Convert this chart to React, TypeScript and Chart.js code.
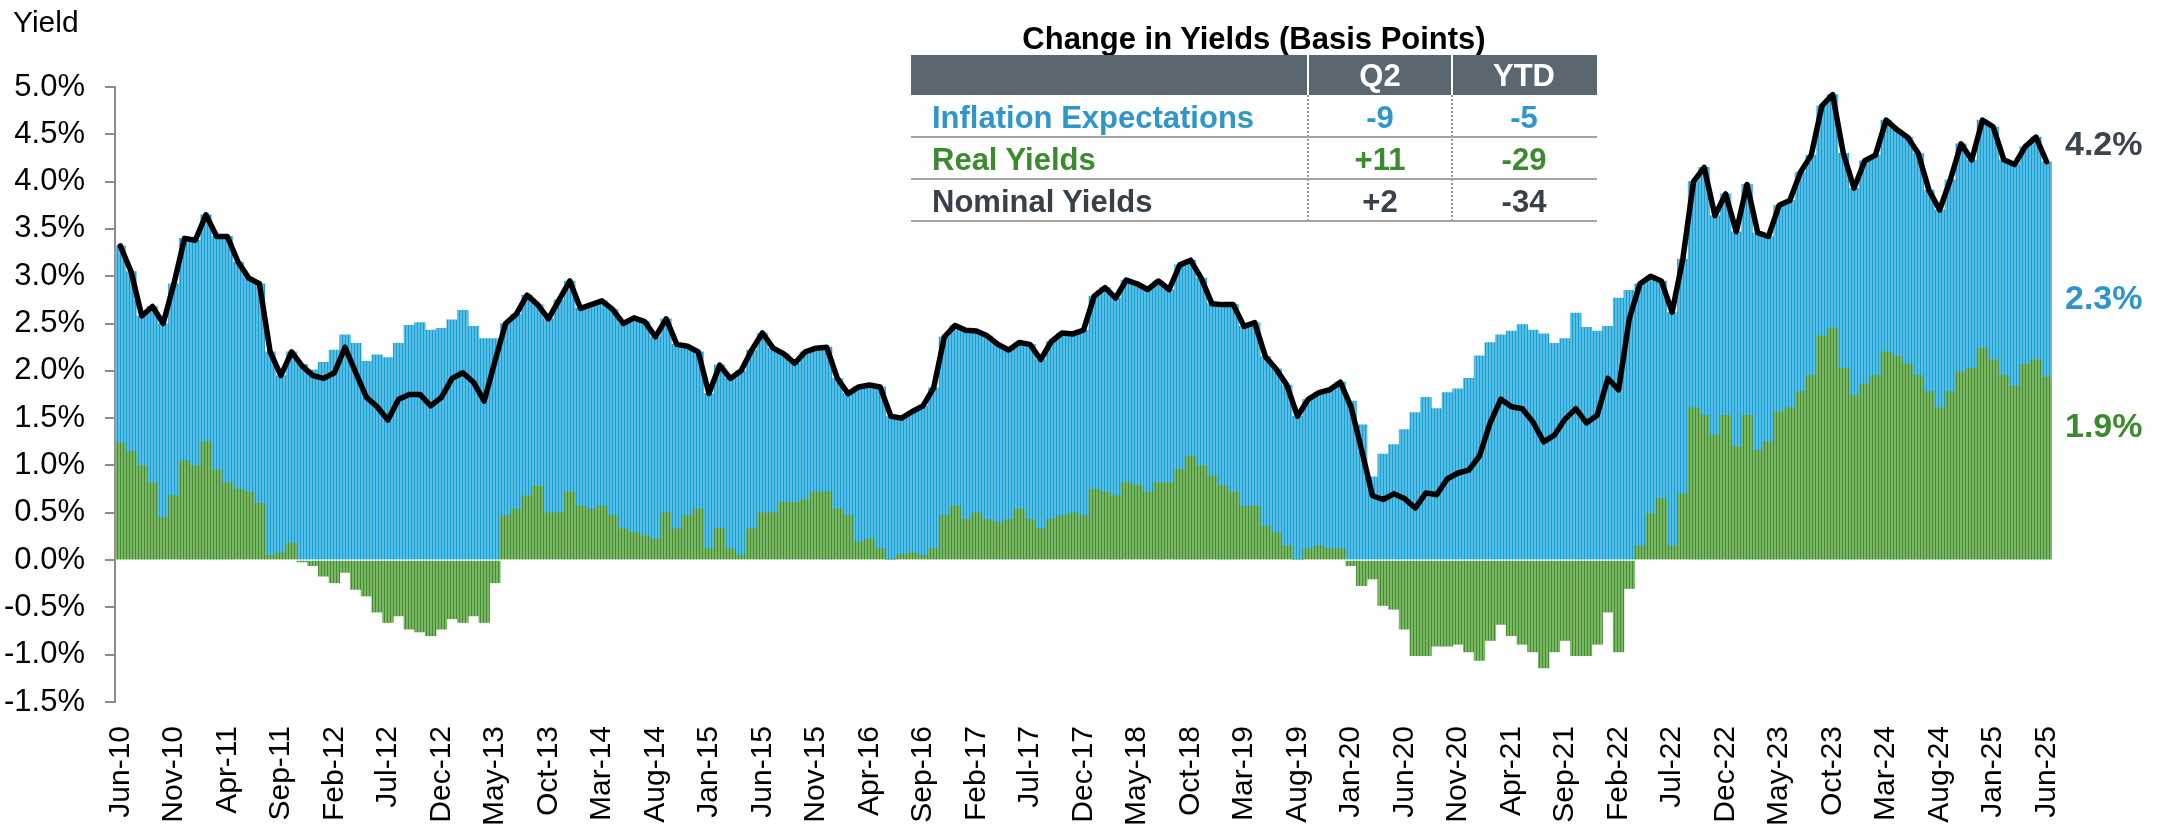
import React, { useEffect, useRef } from 'react';
import { Chart, registerables } from 'chart.js';

Chart.register(...registerables);

// ---------- data ----------
const START_YEAR = 2010;
const START_MONTH = 5; // June (0-based)
const MONTH_NAMES = ['Jan', 'Feb', 'Mar', 'Apr', 'May', 'Jun', 'Jul', 'Aug', 'Sep', 'Oct', 'Nov', 'Dec'];

// 10-year nominal Treasury yield (%), monthly, Jun-10 .. Jun-25
const NOMINAL_YIELD = [
  3.32, 3.05, 2.58, 2.68, 2.50, 2.92, 3.40, 3.38, 3.65, 3.42,
  3.42, 3.15, 2.98, 2.92, 2.20, 1.95, 2.20, 2.05, 1.95, 1.92,
  1.98, 2.25, 1.98, 1.72, 1.62, 1.48, 1.70, 1.75, 1.75, 1.63,
  1.72, 1.92, 1.98, 1.88, 1.68, 2.10, 2.50, 2.60, 2.80, 2.70,
  2.55, 2.75, 2.95,
  2.66, 2.70, 2.74, 2.65, 2.50, 2.56, 2.52, 2.36, 2.55, 2.28,
  2.26, 2.20, 1.76, 2.06, 1.92, 2.00, 2.22, 2.40, 2.24, 2.18,
  2.08, 2.20, 2.24, 2.25, 1.92, 1.76, 1.83, 1.85, 1.83, 1.52,
  1.50, 1.57, 1.63, 1.82, 2.36, 2.48, 2.43, 2.42, 2.37, 2.28,
  2.22,
  2.30, 2.28, 2.12, 2.31, 2.40, 2.39, 2.43, 2.79, 2.88, 2.77,
  2.96, 2.92, 2.86, 2.95, 2.86, 3.12, 3.17, 2.98, 2.71, 2.70,
  2.70, 2.47, 2.51, 2.15, 2.02, 1.85, 1.52, 1.70, 1.77, 1.80,
  1.88, 1.62, 1.16, 0.68, 0.64, 0.70, 0.65, 0.55, 0.71,
  0.69, 0.86, 0.92, 0.95, 1.10, 1.45, 1.70, 1.62, 1.60, 1.46,
  1.25, 1.32, 1.49, 1.60, 1.45, 1.53, 1.92, 1.80, 2.55, 2.92,
  3.00, 2.95, 2.62, 3.18, 4.00, 4.15, 3.64, 3.87, 3.47, 3.97,
  3.46, 3.42, 3.75, 3.80, 4.10, 4.28, 4.80, 4.92, 4.30, 3.93,
  4.22, 4.28, 4.65, 4.55, 4.47, 4.30, 3.91, 3.70, 4.02, 4.40,
  4.23, 4.65, 4.58, 4.23, 4.18, 4.37, 4.47, 4.21,
];

// 10-year real (TIPS) yield (%), monthly, Jun-10 .. Jun-25
const REAL_YIELD = [
  1.24, 1.15, 1.00, 0.82, 0.45, 0.68, 1.05, 1.00, 1.25, 0.95,
  0.82, 0.75, 0.72, 0.60, 0.05, 0.08, 0.18, -0.02, -0.06, -0.17,
  -0.24, -0.13, -0.31, -0.38, -0.55, -0.66, -0.59, -0.73, -0.76, -0.80,
  -0.73, -0.62, -0.66, -0.59, -0.66, -0.24, 0.47, 0.54, 0.68, 0.78,
  0.50, 0.50, 0.72,
  0.57, 0.54, 0.57, 0.47, 0.33, 0.29, 0.26, 0.22, 0.50, 0.33,
  0.47, 0.54, 0.12, 0.33, 0.12, 0.05, 0.33, 0.50, 0.50, 0.61,
  0.61, 0.64, 0.72, 0.72, 0.54, 0.47, 0.19, 0.22, 0.12, 0.01,
  0.06, 0.08, 0.05, 0.12, 0.47, 0.57, 0.43, 0.50, 0.43, 0.40,
  0.43,
  0.54, 0.43, 0.33, 0.43, 0.47, 0.50, 0.47, 0.75, 0.72, 0.68,
  0.82, 0.79, 0.72, 0.82, 0.82, 0.96, 1.10, 1.00, 0.89, 0.79,
  0.72, 0.57, 0.57, 0.36, 0.29, 0.15, 0.01, 0.12, 0.15, 0.12,
  0.12, -0.06, -0.27, -0.20, -0.48, -0.52, -0.73, -1.01, -1.01,
  -0.91, -0.91, -0.89, -0.97, -1.06, -0.85, -0.68, -0.80, -0.89, -0.97,
  -1.14, -0.97, -0.85, -1.01, -1.01, -0.89, -0.55, -0.97, -0.30, 0.15,
  0.49, 0.65, 0.15, 0.70, 1.61, 1.53, 1.32, 1.53, 1.20, 1.53,
  1.16, 1.25, 1.57, 1.61, 1.78, 1.95, 2.37, 2.45, 2.03, 1.74,
  1.86, 1.95, 2.20, 2.16, 2.07, 1.95, 1.78, 1.61, 1.78, 1.99,
  2.03, 2.24, 2.12, 1.95, 1.84, 2.07, 2.12, 1.94,
];

const TICK_EVERY = 5;
const Y_MIN = -1.5;
const Y_MAX = 5.0;
const Y_STEP = 0.5;

const TABLE_TITLE = 'Change in Yields (Basis Points)';
const TABLE_HEADERS = ['Q2', 'YTD'];
const TABLE_LABELS = ['Inflation Expectations', 'Real Yields', 'Nominal Yields'];
const TABLE_Q2 = ['-9', '+11', '+2'];
const TABLE_YTD = ['-5', '-29', '-34'];
const END_LABELS = ['4.2%', '2.3%', '1.9%'];

// ---------- derived ----------
const CATEGORIES: string[] = NOMINAL_YIELD.map((_, i) => {
  const t = START_MONTH + i;
  const y = START_YEAR + Math.floor(t / 12);
  return `${MONTH_NAMES[t % 12]}-${String(y % 100).padStart(2, '0')}`;
});
const INFLATION_EXPECTATIONS = NOMINAL_YIELD.map((n, i) => +(n - REAL_YIELD[i]).toFixed(2));

// ---------- styles ----------
const FONT = '"Liberation Sans", Arial, Helvetica, sans-serif';
const BLUE_TEXT = '#2E96CB';
const GREEN_TEXT = '#3B8B2E';
const SLATE_TEXT = '#36414B';
const ROW_COLORS = [BLUE_TEXT, GREEN_TEXT, SLATE_TEXT];
const END_COLORS = ['#3A4550', BLUE_TEXT, GREEN_TEXT];
const END_Y = [143, 297, 425];

function Txt(props: {
  x: number; y: number; size: number; bold?: boolean; color: string;
  align?: 'left' | 'center'; children: React.ReactNode;
}) {
  const { x, y, size, bold, color, align = 'left', children } = props;
  return (
    <div
      style={{
        position: 'absolute',
        left: x,
        top: y - 0.49 * size,
        fontSize: size,
        lineHeight: `${size}px`,
        fontWeight: bold ? 700 : 400,
        color,
        whiteSpace: 'nowrap',
        transform: align === 'center' ? 'translateX(-50%)' : undefined,
        fontFamily: FONT,
      }}
    >
      {children}
    </div>
  );
}

export default function App() {
  const canvasRef = useRef<HTMLCanvasElement>(null);

  useEffect(() => {
    const canvas = canvasRef.current;
    if (!canvas) return;
    const ctx = canvas.getContext('2d')!;
    const stripes = (dark: string, light: string) => {
      const c = document.createElement('canvas');
      c.width = 3;
      c.height = 4;
      const g = c.getContext('2d')!;
      g.fillStyle = light;
      g.fillRect(0, 0, 3, 4);
      g.fillStyle = dark;
      g.fillRect(0, 0, 1, 4);
      return ctx.createPattern(c, 'repeat') as CanvasPattern;
    };

    const chart = new Chart(canvas, {
      type: 'bar',
      data: {
        labels: CATEGORIES,
        datasets: [
          {
            type: 'line',
            label: 'Nominal Yields',
            data: NOMINAL_YIELD,
            borderColor: '#000000',
            borderWidth: 5.5,
            pointRadius: 0,
            tension: 0,
            borderJoinStyle: 'round',
            borderCapStyle: 'round',
            stack: 'nominal',
            order: 0,
          } as any,
          {
            type: 'bar',
            label: 'Real Yields',
            data: REAL_YIELD,
            backgroundColor: stripes('#3F8D2C', '#7DB666'),
            borderWidth: 0,
            barPercentage: 1,
            categoryPercentage: 1,
            stack: 'bars',
            order: 1,
          } as any,
          {
            type: 'bar',
            label: 'Inflation Expectations',
            data: INFLATION_EXPECTATIONS,
            backgroundColor: stripes('#119FD7', '#5CBDE3'),
            borderWidth: 0,
            barPercentage: 1,
            categoryPercentage: 1,
            stack: 'bars',
            order: 1,
          } as any,
        ],
      },
      options: {
        responsive: false,
        animation: false,
        devicePixelRatio: 1,
        layout: { padding: { top: 87, right: 112, bottom: 0, left: 0 } },
        plugins: { legend: { display: false }, tooltip: { enabled: false } },
        scales: {
          x: {
            type: 'category',
            offset: true,
            grid: { display: false },
            border: { display: false },
            ticks: {
              autoSkip: false,
              minRotation: 90,
              maxRotation: 90,
              padding: 16,
              color: '#000000',
              font: { family: FONT, size: 30 },
              callback: (_v: any, i: number) => (i % TICK_EVERY === 0 ? CATEGORIES[i] : ''),
            },
            afterFit: (axis: any) => {
              axis.height = 123;
            },
          },
          y: {
            stacked: true,
            min: Y_MIN,
            max: Y_MAX,
            ticks: {
              stepSize: Y_STEP,
              padding: 20,
              color: '#000000',
              font: { family: FONT, size: 31 },
              callback: (v: any) => `${Number(v).toFixed(1)}%`,
            },
            grid: {
              drawOnChartArea: false,
              drawTicks: true,
              tickLength: 10,
              color: '#8C8C8C',
              lineWidth: 2,
            },
            border: { display: true, color: '#8C8C8C', width: 2 },
            afterFit: (axis: any) => {
              axis.width = 115;
            },
          },
        },
      } as any,
    });
    return () => chart.destroy();
  }, []);

  const colQ2 = 1380;
  const colYtd = 1524;
  const rowY = [117, 159, 201];

  return (
    <div style={{ position: 'absolute', left: 0, top: 0, width: 2164, height: 825, background: '#fff', fontFamily: FONT }}>
      <canvas ref={canvasRef} width={2164} height={825} style={{ position: 'absolute', left: 0, top: 0, width: 2164, height: 825 }} />

      <Txt x={13} y={22} size={30} color="#000">Yield</Txt>

      {/* table */}
      <Txt x={1254} y={38} size={31} bold color="#000" align="center">{TABLE_TITLE}</Txt>
      <div style={{ position: 'absolute', left: 911, top: 55, width: 686, height: 40, background: '#5B6770' }} />
      <div style={{ position: 'absolute', left: 1307, top: 55, width: 2, height: 40, background: '#fff' }} />
      <div style={{ position: 'absolute', left: 1451, top: 55, width: 2, height: 40, background: '#fff' }} />
      <Txt x={colQ2} y={75} size={31} bold color="#fff" align="center">{TABLE_HEADERS[0]}</Txt>
      <Txt x={colYtd} y={75} size={31} bold color="#fff" align="center">{TABLE_HEADERS[1]}</Txt>
      <div style={{ position: 'absolute', left: 1307, top: 95, width: 0, height: 126, borderLeft: '2px dotted #9A9A9A' }} />
      <div style={{ position: 'absolute', left: 1451, top: 95, width: 0, height: 126, borderLeft: '2px dotted #9A9A9A' }} />
      {[137, 179, 221].map((y) => (
        <div key={y} style={{ position: 'absolute', left: 911, top: y - 1, width: 686, height: 2, background: '#A3A3A3' }} />
      ))}
      {TABLE_LABELS.map((label, i) => (
        <React.Fragment key={label}>
          <Txt x={932} y={rowY[i]} size={31} bold color={ROW_COLORS[i]}>{label}</Txt>
          <Txt x={colQ2} y={rowY[i]} size={31} bold color={ROW_COLORS[i]} align="center">{TABLE_Q2[i]}</Txt>
          <Txt x={colYtd} y={rowY[i]} size={31} bold color={ROW_COLORS[i]} align="center">{TABLE_YTD[i]}</Txt>
        </React.Fragment>
      ))}

      {/* end labels */}
      {END_LABELS.map((t, i) => (
        <Txt key={t} x={2065} y={END_Y[i]} size={34} bold color={END_COLORS[i]}>{t}</Txt>
      ))}
    </div>
  );
}
